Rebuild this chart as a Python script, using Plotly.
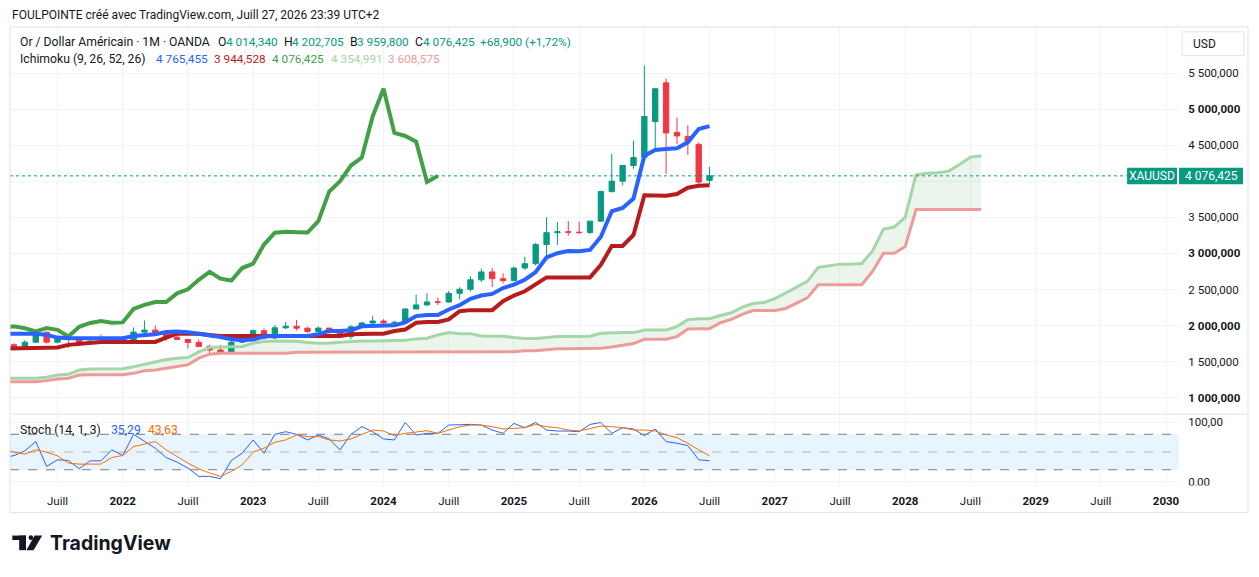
import plotly.graph_objects as go

# page body has an 8px margin, so the figure is laid out in window pixels minus 8
OFF = 8
W, H = 1259 - OFF, 577 - OFF

UP = "#089981"
DOWN = "#F23645"
GRID = "#F0F3FA"
TXT = "#131722"

## Monthly XAUUSD candles (OANDA), index 0 = Mar 2021 ... 64 = Jul 2026
opens = [1733, 1708, 1769, 1907, 1770, 1814, 1813, 1757, 1783, 1774,
         1829, 1796, 1909, 1937, 1897, 1838, 1807, 1766, 1711, 1661, 1633, 1768,
         1824, 1928, 1827, 1969, 1990, 1963, 1919, 1965, 1940, 1849, 1983, 2036,
         2063, 2039, 2044, 2230, 2286, 2327, 2326, 2447, 2503, 2634, 2744, 2650,
         2624, 2798, 2858, 3124, 3288, 3300, 3295, 3290, 3448, 3858, 4003, 4220,
         4330, 4830, 5367, 4679, 4624, 4513, 4014.34]
highs = [1755, 1798, 1913, 1917, 1833, 1832, 1836, 1814, 1877, 1831,
         1853, 1974, 2070, 1998, 1910, 1879, 1814, 1808, 1735, 1730, 1786, 1833,
         1949, 1959, 2009, 2048, 2079, 1984, 1987, 1966, 1953, 2009, 2052, 2135,
         2088, 2065, 2236, 2431, 2450, 2387, 2483, 2531, 2685, 2790, 2801, 2726,
         2817, 2956, 3149, 3500, 3435, 3452, 3439, 3453, 3871, 4381, 4229, 4564,
         5606, 5290, 5427, 4885, 4780, 4541, 4202.705]
lows = [1677, 1705, 1765, 1750, 1751, 1688, 1721, 1746, 1759, 1753,
        1780, 1787, 1890, 1872, 1787, 1805, 1681, 1709, 1615, 1617, 1616, 1765,
        1822, 1804, 1810, 1949, 1932, 1893, 1903, 1885, 1846, 1810, 1965, 1973,
        2002, 1984, 2039, 2228, 2277, 2286, 2318, 2364, 2471, 2604, 2536, 2583,
        2614, 2772, 2833, 2957, 3121, 3247, 3268, 3268, 3436, 3845, 3944, 4174,
        4321, 4412, 4105, 4518, 4367, 3940, 3959.8]
closes = [1708, 1769, 1907, 1770, 1814, 1813, 1757, 1783, 1774, 1829,
          1796, 1909, 1937, 1897, 1838, 1807, 1766, 1711, 1661, 1633, 1768, 1824,
          1928, 1827, 1969, 1990, 1963, 1919, 1965, 1940, 1849, 1983, 2036, 2063,
          2039, 2044, 2230, 2286, 2327, 2326, 2447, 2503, 2634, 2744, 2650, 2624,
          2798, 2858, 3124, 3288, 3300, 3295, 3290, 3448, 3858, 4003, 4220, 4330,
          4900, 5285, 4672, 4630, 4550, 3990, 4076.425]
candle_idx = list(range(len(closes)))

## Ichimoku (9, 26, 52, 26), index -1 = Feb 2021
line_idx = list(range(-1, 65))
conversion = [1888, 1888, 1888, 1888, 1870, 1833, 1824, 1824, 1815, 1810, 1810,
              1824, 1856, 1870, 1879, 1911, 1916, 1906, 1888, 1865, 1842, 1810,
              1796, 1805, 1847, 1856, 1856, 1856, 1856, 1879, 1925, 1925, 1934,
              1989, 1993, 1993, 2003,
              2045, 2131, 2145, 2145, 2223, 2283, 2370, 2416, 2439, 2521, 2567,
              2636, 2742, 2944, 3003, 3035, 3030, 3049, 3233, 3586, 3632, 3761,
              4357, 4435, 4449, 4458, 4541, 4725, 4765.455]
base = [1681, 1681, 1681, 1681, 1681, 1695, 1732, 1750, 1764, 1773, 1773,
        1773, 1773, 1773, 1773, 1833, 1888, 1888, 1888, 1870, 1856, 1856,
        1856, 1856, 1856, 1856, 1856, 1856, 1856, 1856, 1856, 1856, 1879,
        1888, 1888, 1888, 1925,
        1945, 2039, 2048, 2050, 2085, 2200, 2214, 2214, 2214, 2338, 2416,
        2476, 2567, 2668, 2668, 2668, 2668, 2668, 2843, 3104, 3104, 3256,
        3807, 3800, 3800, 3825, 3912, 3940, 3944.528]

# leading spans are drawn 25 bars ahead: index -1 = Feb 2021 ... 89 = Aug 2028
lead_idx = list(range(-1, 90))
lead_a = [1268, 1268, 1268, 1268, 1282, 1314, 1323, 1383, 1397, 1397, 1397,
          1401, 1429, 1466, 1498, 1530, 1548, 1557, 1636, 1695, 1704, 1709,
          1709, 1755, 1778, 1787, 1787, 1782, 1764, 1755, 1759, 1769, 1782,
          1787, 1787, 1787, 1790, 1796, 1815, 1824, 1870, 1902, 1888, 1888,
          1856, 1851, 1851, 1833, 1819, 1822, 1837, 1847, 1847, 1847, 1851,
          1892, 1902, 1902, 1902, 1939, 1939, 1939, 1985, 2081, 2095, 2095,
          2140, 2177, 2255, 2305, 2319, 2374, 2452, 2535, 2613, 2806, 2834,
          2852, 2852, 2861, 3035, 3338, 3366, 3504, 4091, 4114, 4119, 4142,
          4233, 4334, 4354.991]
lead_b = [1222, 1222, 1222, 1222, 1236, 1259, 1268, 1314, 1319, 1319, 1319,
          1319, 1337, 1374, 1383, 1411, 1429, 1457, 1548, 1603, 1617, 1617,
          1617, 1617, 1617, 1617, 1617, 1630, 1630, 1630, 1630, 1630, 1630,
          1630, 1630, 1630, 1630, 1636, 1636, 1636, 1636, 1636, 1636, 1636,
          1636, 1636, 1636, 1636, 1649, 1649, 1663, 1677, 1677, 1677, 1677,
          1686, 1704, 1732, 1750, 1810, 1810, 1810, 1847, 1952, 1957, 1957,
          2039, 2085, 2154, 2209, 2209, 2209, 2237, 2305, 2384, 2567, 2567,
          2567, 2567, 2567, 2751, 3003, 3003, 3095, 3608.575, 3608.575,
          3608.575, 3608.575, 3608.575, 3608.575, 3608.575]
lag_shift = 25

## Stoch (14, 1, 3), index -1 = Feb 2021
stoch_k = [40, 44, 52, 67.6, 25.6, 36.8, 35.7, 21.7, 35.1, 35.1, 53.6, 44.1,
           79.9, 67.6, 56.4, 40.7, 32.9, 22.8, 8.8, 8.8, 4.9, 35.7, 48, 70.4,
           48, 79.9, 84.4, 79.9, 70.4, 78.8, 72.1, 53.6, 79.9, 92.8,
           84.4, 72.1, 70.4, 100, 78.8, 81.6, 81.6, 95.6, 96.7, 96.7, 95.6,
           87.2, 81.6, 98.4, 91.1, 100, 87.2, 85.5, 85.5, 84.4, 96.7, 100,
           81.6, 91.1, 88.9, 77.7, 88.9, 67.6, 64.8, 60.9, 36.8, 35.29]
stoch_d = [56, 49.7, 46.3, 53.6, 49.7, 43.5, 31.2, 29.5, 29.5, 29.5, 40.7, 44.1,
           59.2, 63.1, 67.6, 53.6, 42.4, 31.2, 21.7, 14.4, 8.8, 17.2, 28.4,
           49.7, 56.4, 66.5, 70.4, 78.8, 76, 76, 70.4, 68.7, 72.1, 79.9,
           87.2, 85.5, 77.7, 81.6, 83.3, 86.1, 81.6, 87.2, 92.8, 95.6, 95.6,
           92.8, 88.9, 90, 91.1, 96.7, 92.8, 91.1, 87.2, 85.5, 90, 93.9, 92.8,
           91.1, 87.2, 87.2, 85.5, 78.8, 74.3, 64.8, 53.6, 43.63]

## Axis labels
tick_months = [4, 10, 16, 22, 28, 34, 40, 46, 52, 58, 64, 70, 76, 82, 88, 94, 100, 106]
tick_text = ["Juill", "<b>2022</b>", "Juill", "<b>2023</b>", "Juill", "<b>2024</b>",
             "Juill", "<b>2025</b>", "Juill", "<b>2026</b>", "Juill", "<b>2027</b>",
             "Juill", "<b>2028</b>", "Juill", "<b>2029</b>", "Juill", "<b>2030</b>"]
price_ticks = [1000, 1500, 2000, 2500, 3000, 3500, 4000, 4500, 5000, 5500]
price_text = ["<b>1 000,000</b>", "1 500,000", "<b>2 000,000</b>", "2 500,000",
              "<b>3 000,000</b>", "3 500,000", "", "4 500,000",
              "<b>5 000,000</b>", "5 500,000"]


def px(x):
    return (x - OFF) / W


def py(y):
    return 1 - (y - OFF) / H


fig = go.Figure()

# cloud
fig.add_trace(go.Scatter(x=lead_idx, y=lead_b, mode="lines",
                         line=dict(color="#EF9A9A", width=3)))
fig.add_trace(go.Scatter(x=lead_idx, y=lead_a, mode="lines",
                         line=dict(color="#A5D6A7", width=3),
                         fill="tonexty", fillcolor="rgba(67,160,71,0.1)"))
# lagging span = closes drawn 25 bars back
fig.add_trace(go.Scatter(x=[i - lag_shift for i in candle_idx], y=closes, mode="lines",
                         line=dict(color="#43A047", width=4)))
fig.add_trace(go.Scatter(x=line_idx, y=base, mode="lines",
                         line=dict(color="#B71C1C", width=4)))
fig.add_trace(go.Scatter(x=line_idx, y=conversion, mode="lines",
                         line=dict(color="#2962FF", width=4)))

fig.add_trace(go.Candlestick(
    x=candle_idx, open=opens, high=highs, low=lows, close=closes,
    increasing=dict(line=dict(color=UP, width=1), fillcolor=UP),
    decreasing=dict(line=dict(color=DOWN, width=1), fillcolor=DOWN),
    whiskerwidth=0))

# stochastic pane
fig.add_trace(go.Scatter(x=line_idx, y=stoch_k, mode="lines", xaxis="x2", yaxis="y2",
                         line=dict(color="#2962FF", width=1)))
fig.add_trace(go.Scatter(x=line_idx, y=stoch_d, mode="lines", xaxis="x2", yaxis="y2",
                         line=dict(color="#FF6D00", width=1)))

xr = [-0.37, 107.2]
tick_font = dict(family="Roboto", size=11.5, color=TXT)
fig.update_layout(
    width=W, height=H, margin=dict(l=0, r=0, t=0, b=0),
    paper_bgcolor="white", plot_bgcolor="white", showlegend=False,
    font=dict(family="Roboto", size=12, color=TXT),
    xaxis=dict(domain=[px(10), px(1180)], range=xr, anchor="y",
               tickvals=tick_months, showticklabels=False, showgrid=True,
               gridcolor=GRID, zeroline=False, showline=False,
               rangeslider=dict(visible=False)),
    yaxis=dict(domain=[py(417), py(27)], range=[771.4, 6143.2], anchor="x",
               side="right", tickvals=price_ticks, ticktext=price_text,
               gridcolor=GRID, zeroline=False, ticks="outside", ticklen=6,
               tickcolor="rgba(0,0,0,0)", tickfont=tick_font),
    xaxis2=dict(domain=[px(10), px(1180)], range=xr, anchor="y2",
                tickvals=tick_months, ticktext=tick_text, gridcolor=GRID,
                zeroline=False, ticks="outside", ticklen=6,
                tickcolor="rgba(0,0,0,0)", tickfont=tick_font),
    yaxis2=dict(domain=[py(488), py(417)], range=[-5.2, 114.1], anchor="x2",
                side="right", tickvals=[0, 100], ticktext=["0,00", "100,00"],
                gridcolor=GRID, zeroline=False, ticks="outside", ticklen=6,
                tickcolor="rgba(0,0,0,0)", tickfont=tick_font),
)

shapes = [
    # stoch band and levels
    dict(type="rect", xref="x2 domain", yref="y2", x0=0, x1=1, y0=20, y1=80,
         fillcolor="rgba(33,150,243,0.1)", line=dict(width=0), layer="below"),
    dict(type="line", xref="x2 domain", yref="y2", x0=0, x1=1, y0=80, y1=80,
         line=dict(color="#787B86", width=1, dash="dash")),
    dict(type="line", xref="x2 domain", yref="y2", x0=0, x1=1, y0=50, y1=50,
         line=dict(color="rgba(120,123,134,0.5)", width=1, dash="dash")),
    dict(type="line", xref="x2 domain", yref="y2", x0=0, x1=1, y0=20, y1=20,
         line=dict(color="#787B86", width=1, dash="dash")),
    # last price line
    dict(type="line", xref="paper", yref="y", x0=px(10), x1=px(1128),
         y0=closes[-1], y1=closes[-1], line=dict(color=UP, width=1, dash="dot")),
    # time labels are cut where the price scale starts
    dict(type="rect", xref="paper", yref="paper", x0=px(1180.5), x1=px(1248),
         y0=py(515), y1=py(489), fillcolor="white", line=dict(width=0), layer="above"),
    # frame and pane separator
    dict(type="rect", xref="paper", yref="paper", x0=px(10), x1=px(1249),
         y0=py(516), y1=py(27), line=dict(color="#E0E3EB", width=1)),
    dict(type="line", xref="paper", yref="paper", x0=px(10), x1=px(1249),
         y0=py(417), y1=py(417), line=dict(color="#E0E3EB", width=1)),
    # price labels
    dict(type="rect", xref="paper", yref="paper", x0=px(1128), x1=px(1178),
         y0=py(185.5), y1=py(169), fillcolor=UP, line=dict(width=0), layer="above"),
    dict(type="rect", xref="paper", yref="paper", x0=px(1180), x1=px(1244),
         y0=py(185.5), y1=py(169), fillcolor=UP, line=dict(width=0), layer="above"),
    # USD box
    dict(type="rect", xref="paper", yref="paper", x0=px(1183), x1=px(1245),
         y0=py(56), y1=py(32), line=dict(color="#E0E3EB", width=1)),
    # TradingView logo mark
    dict(type="rect", xref="paper", yref="paper", x0=px(12.3), x1=px(26),
         y0=py(543.8), y1=py(539.3), fillcolor=TXT, line=dict(width=0)),
    dict(type="rect", xref="paper", yref="paper", x0=px(19.2), x1=px(26),
         y0=py(554), y1=py(539.3), fillcolor=TXT, line=dict(width=0)),
    dict(type="circle", xref="paper", yref="paper", x0=px(28.6), x1=px(33.2),
         y0=py(543.7), y1=py(539.1), fillcolor=TXT, line=dict(width=0)),
    dict(type="path", xref="paper", yref="paper",
         path=f"M {px(34.6)},{py(539.3)} L {px(42.2)},{py(539.3)} "
              f"L {px(33.6)},{py(554)} L {px(26.4)},{py(554)} Z",
         fillcolor=TXT, line=dict(width=0)),
]
fig.update_layout(shapes=shapes)


def note(x, y, text, color=TXT, size=12.2, anchor="left", weight=None, family="Roboto"):
    f = dict(family=family, size=size, color=color)
    if weight:
        f["weight"] = weight
    fig.add_annotation(x=px(x), y=py(y), xref="paper", yref="paper", text=text,
                       showarrow=False, xanchor=anchor, yanchor="middle", font=f)


note(10, 15, "FOULPOINTE créé avec TradingView.com, Juill 27, 2026 23:39 UTC+2", size=12)

note(18, 42, "Or / Dollar Américain · 1M · OANDA")
for lx, lab, vx, val in [(216.5, "O", 224.3, "4 014,340"), (282.5, "H", 290, "4 202,705"),
                         (348.2, "B", 355.7, "3 959,800"), (413.2, "C", 421, "4 076,425")]:
    note(lx, 42, lab)
    note(vx, 42, val, color=UP, size=11.8)
note(478, 42, "+68,900 (+1,72%)", color=UP, size=11.8)

note(18, 59, "Ichimoku (9, 26, 52, 26)")
for vx, val, c in [(154, "4 765,455", "#2962FF"), (212.3, "3 944,528", "#B71C1C"),
                   (270.7, "4 076,425", "#43A047"), (329.3, "4 354,991", "#A5D6A7"),
                   (386.7, "3 608,575", "#EF9A9A")]:
    note(vx, 59, val, color=c, size=11.8)

note(17.7, 433, "Stoch (14, 1, 3)")
note(109, 433, "35,29", color="#2962FF")
note(145.7, 433, "43,63", color="#FF6D00")

note(1192, 44, "USD", size=12)
note(1153, 177.5, "XAUUSD", color="white", size=12, anchor="center")
note(1212, 177.5, "4 076,425", color="white", size=12, anchor="center")

note(48, 547, "TradingView", size=19.5, weight=700, family="Inter")

fig.write_html("out.html")
